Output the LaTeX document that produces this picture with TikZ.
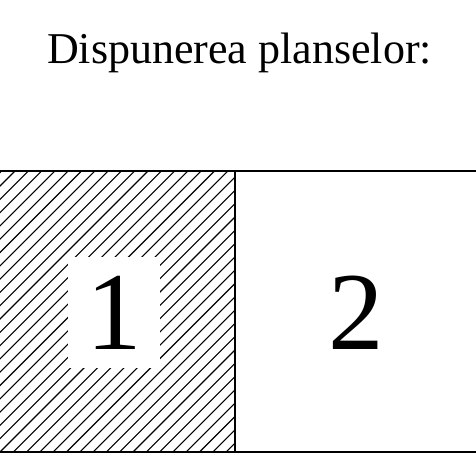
\documentclass[tikz,border=0pt]{standalone}
\usepackage{fontspec}
\setmainfont{Liberation Serif}
\begin{document}
\begin{tikzpicture}[x=1pt,y=-1pt,
  frame/.style={line width=2pt,black},
  hatch/.style={line width=1.1pt,black},
  title/.style={font=\fontsize{44}{50}\selectfont,anchor=base,inner sep=0pt},
  digit/.style={font=\fontsize{111}{120}\selectfont,inner sep=0pt}]
\useasboundingbox (0,0) rectangle (476,453);
% hatching of sheet 1
\begin{scope}
  \clip (0,171) rectangle (235,452);
  \foreach \k in {-30,...,40}{
    \draw[hatch] ({\k*13.3},452) -- ({\k*13.3+300},152);
  }
\end{scope}
\fill[white] (68,257) rectangle (160,368);
% frame
\draw[frame] (0,171) -- (476,171);
\draw[frame] (0,452) -- (476,452);
\draw[frame] (235,171) -- (235,452);
% texts
\node[title] (t) at (239.5,63) {Dispunerea planselor:};
\node[digit] (one) at (114,313) {1};
\node[digit] (two) at (356.5,313) {2};
\end{tikzpicture}
\end{document}
